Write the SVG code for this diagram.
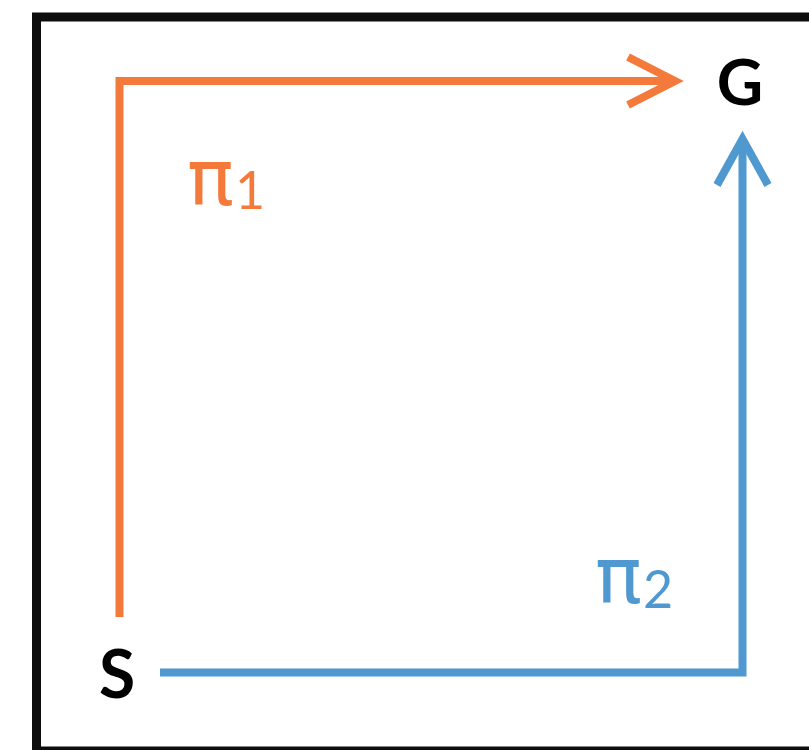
<svg xmlns="http://www.w3.org/2000/svg" width="809" height="750" viewBox="0 0 809 750">
<style>
.frame{fill:none;stroke:#0d0d0d;stroke-width:9}
.orange{fill:none;stroke:#F47A3C;stroke-width:8}
.blue{fill:none;stroke:#4F98D0;stroke-width:8}
.lbl{font-family:Lato,"Open Sans","Liberation Sans",sans-serif;font-weight:bold;fill:#000}
.pi{font-family:"DejaVu Sans",sans-serif}
.sub{font-family:Lato,"Liberation Sans",sans-serif}
</style>
<rect class="frame" x="36.5" y="17" width="790" height="734"/>
<g id="connectors">
<path class="orange" d="M119.5,617 V81 H675"/>
<path class="orange" d="M628,57 L675,81 L628,105"/>
<path class="blue" d="M160,672.5 H742.5 V139"/>
<path class="blue" d="M717,185 L742.5,139 L768,185"/>
</g>
<g id="node-G"><text class="lbl" x="740" y="105" font-size="64" text-anchor="middle">G</text></g>
<g id="node-S"><text class="lbl" x="117" y="698" font-size="66" text-anchor="middle">S</text></g>
<g id="label-pi1" fill="#F47A3C"><text class="pi" x="187" y="205" font-size="78">π</text><text class="sub" x="235" y="209" font-size="52">1</text></g>
<g id="label-pi2" fill="#4F98D0"><text class="pi" x="595" y="603" font-size="78">π</text><text class="sub" x="643" y="608" font-size="52">2</text></g>
</svg>
